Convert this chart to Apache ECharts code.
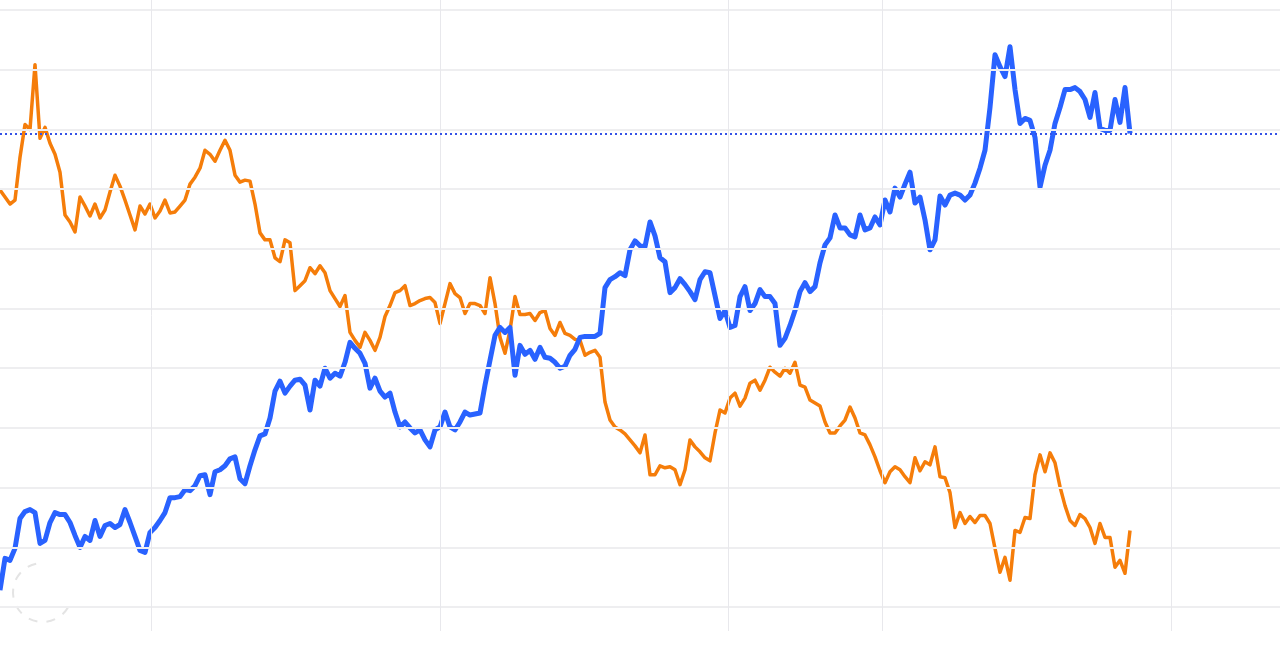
<!DOCTYPE html>
<html>
<head>
<meta charset="utf-8">
<script src="https://cdn.jsdelivr.net/npm/echarts@6/dist/echarts.min.js"></script>
<style>
  html, body { margin: 0; padding: 0; background: #ffffff; }
  #chart { width: 1280px; height: 645px; }
</style>
</head>
<body>
<div id="chart"></div>
<script>
// Series values (one sample per step along the x index)
const blueValues = [
  17,49,47,59,89,96,98,95,64,67,
  85,95,93,93,85,72,60,71,67,87,
  71,82,84,80,83,98,85,71,57,55,
  75,80,87,95,110,110,111,118,117,122,
  132,133,113,136,138,142,149,151,129,124,
  142,158,172,174,190,217,227,215,222,228,
  229,223,198,228,222,240,230,235,232,246,
  266,260,255,245,220,230,217,211,215,196,
  181,186,180,175,178,168,161,178,181,196,
  181,178,186,196,193,194,195,223,248,273,
  281,276,281,233,263,254,258,249,261,251,
  250,246,240,242,253,259,271,272,272,272,
  275,321,329,332,336,333,359,368,363,362,
  387,373,351,347,316,321,330,324,317,309,
  329,337,336,313,290,298,281,283,312,322,
  298,305,319,312,312,305,263,270,283,298,
  317,326,317,322,346,364,371,394,381,381,
  374,372,394,379,381,392,384,409,397,421,
  412,425,437,406,412,389,359,369,413,404,
  414,416,414,409,414,426,441,459,502,555,
  543,533,563,520,486,491,489,472,422,444,
  459,486,502,520,520,522,518,510,492,517,
  481,479,479,510,487,522,476
];
const orangeValues = [
  419,412,405,409,452,485,480,545,471,482,
  466,455,437,394,387,377,412,403,393,405,
  391,399,417,434,423,409,394,379,403,395,
  405,391,398,409,396,397,403,409,425,432,
  441,459,455,448,459,469,459,434,427,429,
  428,405,376,369,369,351,347,369,366,318,
  323,328,341,335,343,336,318,310,302,313,
  276,268,261,276,268,258,271,292,303,316,
  318,323,303,305,308,310,311,306,285,305,
  325,315,311,295,305,305,303,295,331,305,
  271,255,278,312,294,294,295,288,296,298,
  280,273,286,275,273,269,268,253,256,258,
  251,206,188,181,178,174,168,162,155,173,
  133,133,142,140,141,138,123,138,168,161,
  156,150,147,175,198,195,210,215,202,210,
  225,228,218,228,241,236,232,240,235,246,
  223,221,208,205,202,186,175,175,182,188,
  201,190,175,173,163,151,137,125,136,141,
  138,131,125,150,137,146,143,161,131,130,
  115,80,95,84,91,85,92,92,84,59,
  35,50,27,77,75,90,89,133,153,136,
  155,145,121,102,87,82,93,89,80,64,
  84,70,70,40,47,34,77
];
// Horizontal grid values (y ticks) and vertical grid positions (x ticks)
const yTicks = [0, 60, 120, 180, 240, 300, 360, 420, 480, 540, 600];
const xTicks = [30.3, 88.1, 145.6, 176.4, 234.3];

const chart = echarts.init(document.getElementById('chart'), null, { renderer: 'canvas' });

const toPairs = arr => arr.map((v, i) => [i, v]);
const lastBlue = blueValues[blueValues.length - 1];

const option = {
  animation: false,
  backgroundColor: '#ffffff',
  grid: { left: 0, right: 0, top: 0, bottom: 14, containLabel: false },
  xAxis: {
    type: 'value', min: 0, max: 256, show: false,
    splitLine: { show: false }
  },
  yAxis: {
    type: 'value', min: -24, max: 610, show: false,
    splitLine: { show: false }
  },
  graphic: [{
    type: 'arc',
    shape: { cx: 42.5, cy: 592.5, r: 29.5, startAngle: 0.52, endAngle: 4.54, clockwise: true },
    style: { fill: 'none', stroke: '#e4e4e4', lineWidth: 2, lineDash: [9, 9] },
    z: 0, silent: true
  }],
  series: [
    {
      name: 'grid',
      type: 'line',
      data: [],
      z: 1,
      silent: true,
      markLine: {
        silent: true,
        symbol: ['none', 'none'],
        label: { show: false },
        animation: false,
        data: [
          ...yTicks.map(v => ({ yAxis: v, lineStyle: { color: '#eeeef0', width: 2, type: 'solid' } })),
          ...xTicks.map(v => ({ xAxis: v, lineStyle: { color: '#e8e8ec', width: 1, type: 'solid' } }))
        ]
      }
    },
    {
      name: 'Orange',
      type: 'line',
      data: toPairs(orangeValues),
      showSymbol: false,
      symbol: 'none',
      z: 3,
      lineStyle: { color: '#f57d0a', width: 3.5, join: 'round' },
      itemStyle: { color: '#f57d0a' }
    },
    {
      name: 'Blue',
      type: 'line',
      data: toPairs(blueValues),
      showSymbol: false,
      symbol: 'none',
      z: 4,
      lineStyle: { color: '#2962ff', width: 5, join: 'round' },
      itemStyle: { color: '#2962ff' },
      markLine: {
        silent: true,
        symbol: ['none', 'none'],
        label: { show: false },
        animation: false,
        lineStyle: { color: '#3552e6', width: 2, type: [2, 3] },
        data: [{ yAxis: lastBlue }]
      }
    }
  ]
};
chart.setOption(option);
</script>
</body>
</html>
